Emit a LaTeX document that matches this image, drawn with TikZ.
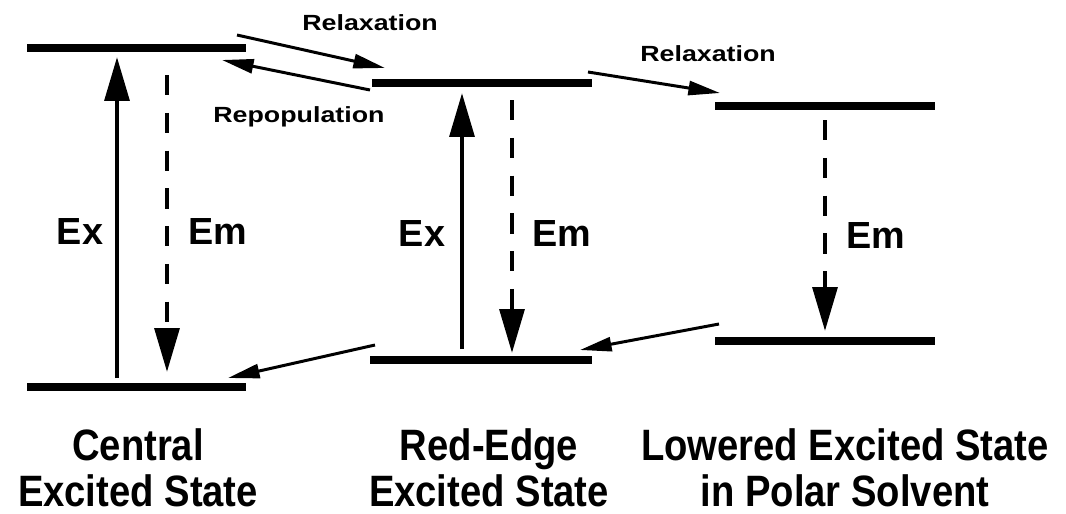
\documentclass[tikz,border=0pt]{standalone}
\usepackage{fontspec}
\setmainfont{Liberation Sans}
\newfontfamily\widefont[FakeStretch=1.22]{Liberation Sans}
\newfontfamily\narrowfont[FakeStretch=0.87]{Liberation Sans}
\usetikzlibrary{arrows.meta}

\begin{document}
\begin{tikzpicture}[x=0.02cm, y=-0.02cm,
    level/.style={line width=4pt},
    exarrow/.style={line width=2.5pt, -{Triangle[length=25pt, width=14pt]}},
    emarrow/.style={exarrow, dash pattern=on 11.5pt off 10pt},
    flow/.style={line width=1.7pt, -{Triangle[length=18pt, width=8pt]}},
    biglabel/.style={font=\fontsize{21.5}{26}\selectfont\bfseries, inner sep=0pt},
    namelabel/.style={font=\narrowfont\fontsize{25}{26.3}\selectfont\bfseries, inner sep=0pt, align=center},
    smalllabel/.style={font=\widefont\fontsize{12.5}{15}\selectfont\bfseries, inner sep=0pt}]
    \useasboundingbox (0,0) rectangle (1066,514);

    % Central excited state
    \coordinate (ctopL) at (27,48);   \coordinate (ctopR) at (246,48);
    \coordinate (cbotL) at (27,387);  \coordinate (cbotR) at (246,387);
    \draw[level] (ctopL) -- (ctopR);
    \draw[level] (cbotL) -- (cbotR);
    \coordinate (cexS) at (117,378);  \coordinate (cexE) at (117,57);
    \coordinate (cemS) at (167,75);   \coordinate (cemE) at (167,372);
    \draw[exarrow] (cexS) -- (cexE);
    \draw[emarrow] (cemS) -- (cemE);
    \node[biglabel, anchor=base] (cex) at (80,244) {Ex};
    \node[biglabel, anchor=base] (cem) at (218,244) {Em};

    % Red-edge excited state
    \coordinate (rtopL) at (372,83);  \coordinate (rtopR) at (592,83);
    \coordinate (rbotL) at (370,360); \coordinate (rbotR) at (592,360);
    \draw[level] (rtopL) -- (rtopR);
    \draw[level] (rbotL) -- (rbotR);
    \coordinate (rexS) at (462,349);  \coordinate (rexE) at (462,93);
    \coordinate (remS) at (512,100);  \coordinate (remE) at (512,353);
    \draw[exarrow] (rexS) -- (rexE);
    \draw[emarrow] (remS) -- (remE);
    \node[biglabel, anchor=base] (rex) at (422,246) {Ex};
    \node[biglabel, anchor=base] (rem) at (562,246) {Em};

    % Lowered excited state
    \coordinate (ltopL) at (715,106); \coordinate (ltopR) at (935,106);
    \coordinate (lbotL) at (715,341); \coordinate (lbotR) at (935,341);
    \draw[level] (ltopL) -- (ltopR);
    \draw[level] (lbotL) -- (lbotR);
    \coordinate (lemS) at (825,120);  \coordinate (lemE) at (825,331);
    \draw[emarrow] (lemS) -- (lemE);
    \node[biglabel, anchor=base] (lem) at (876,248) {Em};

    % Relaxation and repopulation
    \coordinate (rel1S) at (237,35);  \coordinate (rel1E) at (385,68);
    \coordinate (repS) at (370,90);   \coordinate (repE) at (222,60);
    \coordinate (rel2S) at (588,72);  \coordinate (rel2E) at (720,93);
    \draw[flow] (rel1S) -- (rel1E);
    \draw[flow] (repS) -- (repE);
    \draw[flow] (rel2S) -- (rel2E);
    \node[smalllabel, anchor=base west] (rel1) at (302,30) {Relaxation};
    \node[smalllabel, anchor=base west] (rep) at (213,122) {Repopulation};
    \node[smalllabel, anchor=base west] (rel2) at (640,61) {Relaxation};

    % Ground state returns
    \coordinate (gnd1S) at (719,324); \coordinate (gnd1E) at (580,350);
    \coordinate (gnd2S) at (375,345); \coordinate (gnd2E) at (228,378);
    \draw[flow] (gnd1S) -- (gnd1E);
    \draw[flow] (gnd2S) -- (gnd2E);

    % State names
    \node[namelabel, anchor=north] (cname) at (138,428) {Central\\Excited State};
    \node[namelabel, anchor=north] (rname) at (489,428) {Red-Edge\\Excited State};
    \node[namelabel, anchor=north] (lname) at (845,428) {Lowered Excited State\\in Polar Solvent};
\end{tikzpicture}
\end{document}
